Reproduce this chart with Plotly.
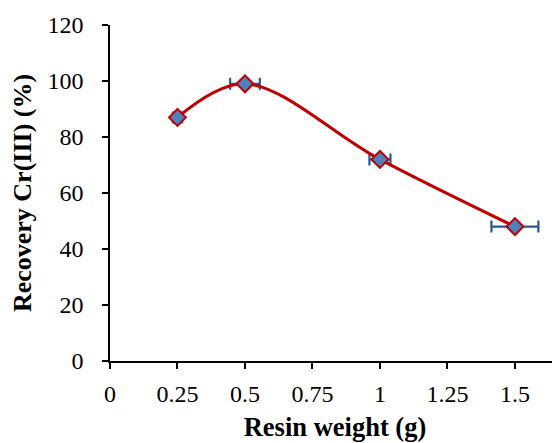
import plotly.graph_objects as go

resin_weight = [0.25, 0.5, 1.0, 1.5]
recovery = [87, 99, 72, 48]
x_error = [0.017, 0.055, 0.039, 0.087]
x_ticks = [0, 0.25, 0.5, 0.75, 1, 1.25, 1.5]
x_tick_labels = ["0", "0.25", "0.5", "0.75", "1", "1.25", "1.5"]
y_ticks = [0, 20, 40, 60, 80, 100, 120]

fig = go.Figure()
fig.add_trace(go.Scatter(
    x=resin_weight, y=recovery,
    mode="lines+markers",
    line=dict(color="#C00000", width=3, shape="spline", smoothing=1),
    marker=dict(symbol="diamond", size=13, color="#4F81BD",
                line=dict(color="#C00000", width=2)),
    error_x=dict(type="data", array=x_error, visible=True,
                 color="#2B5A92", thickness=2.2, width=6),
    showlegend=False,
))

font_family = "Liberation Serif"
fig.update_layout(
    width=552, height=435,
    margin=dict(l=102, r=0, t=17, b=82),
    paper_bgcolor="white", plot_bgcolor="white",
    font=dict(family=font_family, color="black", size=24),
    xaxis=dict(
        range=[0, 1.667], tickvals=x_ticks, ticktext=x_tick_labels,
        showline=True, linecolor="black", linewidth=1.5,
        ticks="outside", ticklen=6, tickwidth=1.5, tickcolor="black",
        showgrid=False, zeroline=False,
        tickfont=dict(family=font_family, size=24),
        ticklabelstandoff=4,
        title=dict(text="<b>Resin weight (g)</b>", font=dict(family=font_family, size=26.5), standoff=12),
    ),
    yaxis=dict(
        range=[0, 120], tickvals=y_ticks,
        showline=True, linecolor="black", linewidth=1.5,
        ticks="outside", ticklen=6, tickwidth=1.5, tickcolor="black",
        showgrid=False, zeroline=False,
        tickfont=dict(family=font_family, size=24),
        ticklabelstandoff=14,
        title=dict(text="<b>Recovery Cr(III) (%)</b>", font=dict(family=font_family, size=26), standoff=9),
    ),
)

fig.write_html("out.html")
